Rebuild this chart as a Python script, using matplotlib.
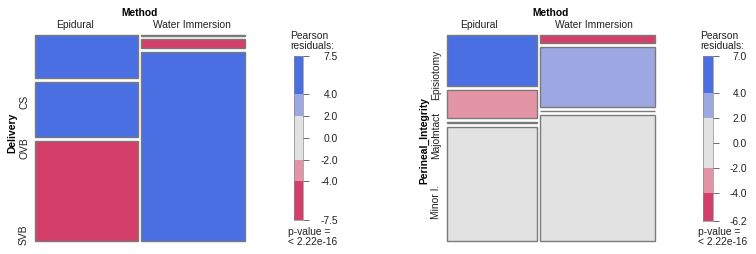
import matplotlib
matplotlib.use("Agg")
import matplotlib.pyplot as plt
from matplotlib.patches import Rectangle

plt.rcParams['font.family'] = ['Liberation Sans', 'DejaVu Sans']

# ---------------- data ----------------
methods = ["Epidural", "Water Immersion"]

# panel 1: Delivery by Method
delivery_levels = ["CS", "OVB", "SVB"]
method_share_1 = [49.8, 50.2]
delivery_pct_epidural = [21.8, 27.8, 50.4]
delivery_pct_water = [0.4, 4.6, 95.0]
delivery_resid_epidural = [7.5, 6.8, -6.1]
delivery_resid_water = [-7.5, -6.8, 6.1]

# panel 2: Perineal_Integrity by Method
integrity_levels = ["Episiotomy", "Intact", "Major", "Minor I."]
method_share_2 = [43.9, 56.1]
integrity_pct_epidural = [26.1, 14.6, 0.3, 59.0]
integrity_pct_water = [4.1, 31.0, 0.2, 64.7]
integrity_resid_epidural = [7.0, -3.9, 0.1, -0.9]
integrity_resid_water = [-6.2, 3.5, -0.1, 0.8]

legend_breaks = [4.0, 2.0, 0.0, -2.0, -4.0]
p_value_text = "p-value =\n< 2.22e-16"
legend_title = "Pearson\nresiduals:"

# ---------------- style / layout ----------------
W, H = 756, 255
FS = 7.4
EDGE = '#7a7a7a'
COL_STRONG_POS = '#4A6FE3'
COL_WEAK_POS = '#9DA8E2'
COL_NEUTRAL = '#E2E2E2'
COL_WEAK_NEG = '#E495A5'
COL_STRONG_NEG = '#D33F6A'


def shade(r):
    if r > 4:
        return COL_STRONG_POS
    if r > 2:
        return COL_WEAK_POS
    if r >= -2:
        return COL_NEUTRAL
    if r >= -4:
        return COL_WEAK_NEG
    return COL_STRONG_NEG


fig = plt.figure(figsize=(W / 100, H / 100), dpi=100)


def add_axes_px(x0, y0, x1, y1):
    return fig.add_axes([x0 / W, 1 - y1 / H, (x1 - x0) / W, (y1 - y0) / H])


def fig_text(x, y, s, **kw):
    kw.setdefault('fontsize', FS)
    fig.text(x / W, 1 - y / H, s, **kw)


def draw_mosaic(ax, shares, pcts, resids, col_gap, row_gap):
    ax.set_xlim(0, 1)
    ax.set_ylim(1, 0)
    ax.axis('off')
    total = sum(shares)
    avail_w = 1 - col_gap * (len(shares) - 1)
    x = 0.0
    for share, col_p, col_r in zip(shares, pcts, resids):
        w = avail_w * share / total
        avail_h = 1 - row_gap * (len(col_p) - 1)
        tot_p = sum(col_p)
        y = 0.0
        for p, r in zip(col_p, col_r):
            h = avail_h * p / tot_p
            ax.add_patch(Rectangle((x, y), w, h, facecolor=shade(r),
                                   edgecolor=EDGE, lw=1.0, clip_on=False))
            y += h + row_gap
        x += w + col_gap


def draw_legend(ax, resid_lists, label_right_frac):
    vals = [v for lst in resid_lists for v in lst]
    lo, hi = min(vals), max(vals)
    ax.set_xlim(0, 1)
    ax.set_ylim(lo, hi)
    edges = [hi] + [b for b in legend_breaks if lo < b < hi and b != 0] + [lo]
    for top, bot in zip(edges[:-1], edges[1:]):
        ax.bar(0.5, top - bot, bottom=bot, width=1.0,
               color=shade((top + bot) / 2), linewidth=0)
    for sp in ax.spines.values():
        sp.set_color('#8a8a8a')
        sp.set_linewidth(0.5)
    ticks = [hi] + legend_breaks + [lo]
    ax.set_xticks([])
    ax.set_yticks(ticks)
    ax.yaxis.tick_right()
    ax.tick_params(axis='y', length=4.3, width=0.6, color='#555555',
                   labelright=False, labelleft=False)
    tr = ax.get_yaxis_transform()
    for t in ticks:
        ax.text(label_right_frac, t, f"{t:.1f}", transform=tr, ha='right',
                va='center', fontsize=FS, color='#222222', clip_on=False)


# ---------- panel 1 ----------
ax1 = add_axes_px(35, 36, 245, 242)
draw_mosaic(ax1, method_share_1,
            [delivery_pct_epidural, delivery_pct_water],
            [delivery_resid_epidural, delivery_resid_water],
            col_gap=3.0 / 210, row_gap=3.4 / 206)

fig_text(140, 13.3, "Method", ha='center', va='center', fontweight='bold')
for lab, x in zip(methods, [75.3, 191.7]):
    fig_text(x, 25, lab, ha='center', va='center', color='#222222')
fig_text(12.5, 133, "Delivery", ha='center', va='center', rotation=90,
         fontweight='bold')
for lab, y in zip(delivery_levels, [101.7, 148, 235]):
    fig_text(24, y, lab, ha='center', va='center', rotation=90, color='#222222')

leg1 = add_axes_px(294, 56.7, 303.3, 220.7)
draw_legend(leg1, [delivery_resid_epidural, delivery_resid_water],
            (338 - 294) / (303.3 - 294))
fig_text(290, 41, legend_title, ha='left', va='center', linespacing=0.95,
         color='#222222')
fig_text(288, 237, p_value_text, ha='left', va='center', linespacing=0.95,
         color='#222222')

# ---------- panel 2 ----------
ax2 = add_axes_px(447.3, 36, 655, 242)
draw_mosaic(ax2, method_share_2,
            [integrity_pct_epidural, integrity_pct_water],
            [integrity_resid_epidural, integrity_resid_water],
            col_gap=2.7 / 207.7, row_gap=4.0 / 206)

fig_text(551, 13.3, "Method", ha='center', va='center', fontweight='bold')
for lab, x in zip(methods, [479, 594]):
    fig_text(x, 25, lab, ha='center', va='center', color='#222222')
fig_text(424, 140, "Perineal_Integrity", ha='center', va='center',
         rotation=90, fontweight='bold')
for lab, y in zip(integrity_levels, [75, 124, 146, 202]):
    fig_text(436.5, y, lab, ha='center', va='center', rotation=90,
             color='#222222')

leg2 = add_axes_px(703.3, 56.7, 713.3, 221.7)
draw_legend(leg2, [integrity_resid_epidural, integrity_resid_water],
            (747 - 703.3) / (713.3 - 703.3))
fig_text(700, 41, legend_title, ha='left', va='center', linespacing=0.95,
         color='#222222')
fig_text(698, 237, p_value_text, ha='left', va='center', linespacing=0.95,
         color='#222222')

fig.savefig("out.png", dpi=100, facecolor='white')
